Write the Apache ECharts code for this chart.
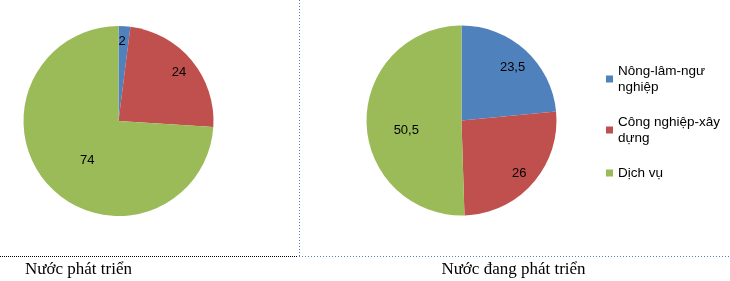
<!DOCTYPE html>
<html><head><meta charset="utf-8">
<script src="https://cdn.jsdelivr.net/npm/echarts@6/dist/echarts.min.js"></script>
<style>html,body{margin:0;padding:0;background:#fff}#c{width:730px;height:281px}</style>
</head><body><div id="c"></div>
<script>
// Data
const categories = ['Nông-lâm-ngư nghiệp', 'Công nghiệp-xây dựng', 'Dịch vụ'];
const legendLines = ['Nông-lâm-ngư\nnghiệp', 'Công nghiệp-xây\ndựng', 'Dịch vụ'];
const developedValues = [2, 24, 74];
const developingValues = [23.5, 26, 50.5];
const chartTitles = ['Nước phát triển', 'Nước đang phát triển'];

// Style / layout (not data)
const colors = ['#4F81BD', '#C0504D', '#9BBB59'];
const pieCenters = [[118.5, 121], [461.5, 120.5]];
const pieRadius = 95;
// label placement: [radius ratio, angle offset from slice middle (deg)]
const labelPlacement = [
  [[0.84, -1], [0.82, 0.6], [0.53, -8.4]],
  [[0.775, 1.6], [0.824, 1], [0.59, -9]]
];

const chart = echarts.init(document.getElementById('c'), null, {renderer: 'canvas'});

function makeSeries(values, idx) {
  const total = values.reduce((a, b) => a + b, 0);
  const mids = [];
  let acc = 0;
  values.forEach(v => { mids.push((acc + v / 2) / total * 360); acc += v; });
  return {
    type: 'pie',
    center: pieCenters[idx],
    radius: pieRadius,
    startAngle: 90,
    clockwise: true,
    animation: false,
    silent: true,
    data: values.map((v, i) => ({name: categories[i], value: v, itemStyle: {color: colors[i]}})),
    itemStyle: {borderWidth: 0},
    label: {
      show: true, position: 'inside', color: '#000',
      fontFamily: 'Liberation Sans', fontSize: 13,
      formatter: p => String(p.value).replace('.', ',')
    },
    labelLine: {show: false},
    labelLayout: function (params) {
      const r = params.labelRect;
      const i = params.dataIndex;
      const pl = labelPlacement[idx][i];
      const th = (mids[i] + pl[1]) * Math.PI / 180;
      const tx = pieCenters[idx][0] + pl[0] * pieRadius * Math.sin(th);
      const ty = pieCenters[idx][1] - pl[0] * pieRadius * Math.cos(th);
      return {dx: tx - (r.x + r.width / 2), dy: ty - (r.y + r.height / 2)};
    }
  };
}

const titleStyle = {fontFamily: 'Liberation Serif', fontSize: 17, fontWeight: 'normal', color: '#000'};

chart.setOption({
  backgroundColor: '#fff',
  animation: false,
  title: [
    {text: chartTitles[0], left: 78.5, top: 261, textAlign: 'center', padding: 0, textStyle: titleStyle},
    {text: chartTitles[1], left: 513.5, top: 261, textAlign: 'center', padding: 0, textStyle: titleStyle}
  ],
  legend: {
    orient: 'vertical', left: 606, top: 63, padding: 0,
    itemWidth: 7, itemHeight: 7, itemGap: 19, icon: 'rect',
    data: categories,
    formatter: name => legendLines[categories.indexOf(name)],
    textStyle: {fontFamily: 'Liberation Sans', fontSize: 13.5, color: '#000', lineHeight: 16},
    selectedMode: false
  },
  graphic: [
    {type: 'line', shape: {x1: 0, y1: 256.5, x2: 298, y2: 256.5},
     style: {stroke: '#000', lineWidth: 1, lineDash: [1, 1]}},
    {type: 'line', shape: {x1: 299, y1: 256.5, x2: 730, y2: 256.5},
     style: {stroke: '#4F81BD', lineWidth: 1, lineDash: [1, 2]}},
    {type: 'line', shape: {x1: 299.5, y1: 0, x2: 299.5, y2: 256},
     style: {stroke: '#4F81BD', lineWidth: 1, lineDash: [1, 2]}}
  ],
  series: [makeSeries(developedValues, 0), makeSeries(developingValues, 1)]
});
</script></body></html>
